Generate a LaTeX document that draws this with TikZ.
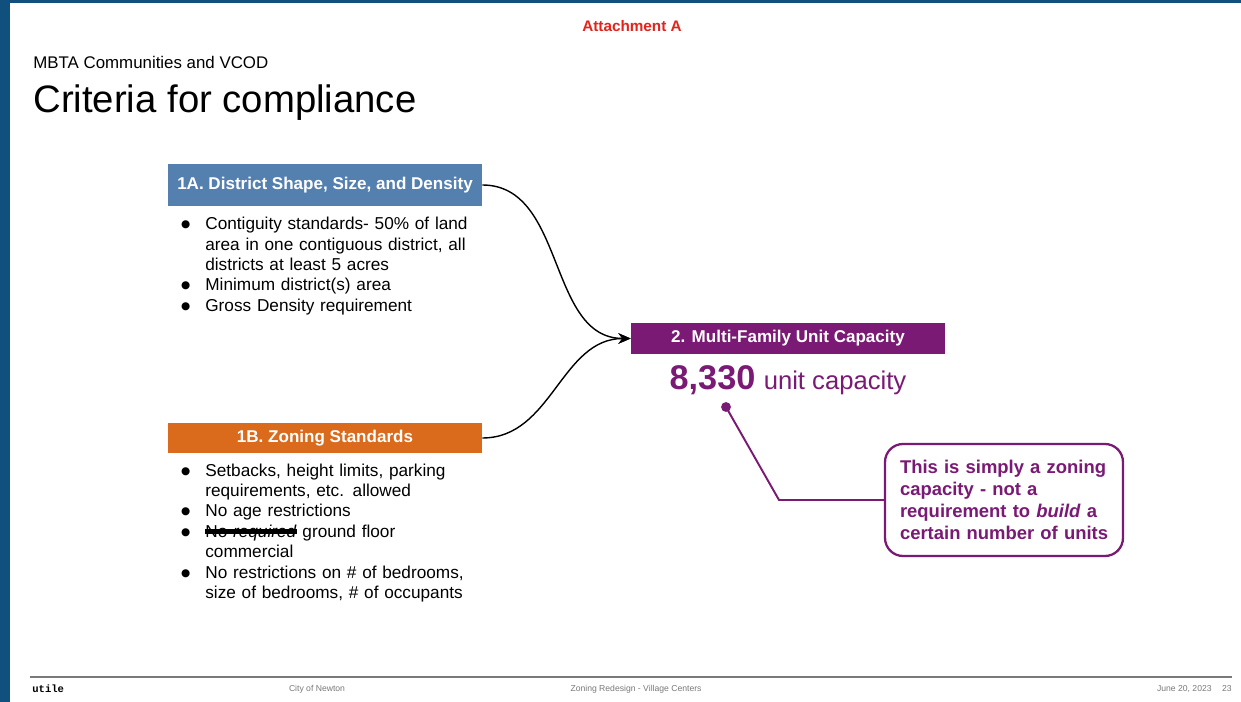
\documentclass[tikz,border=0pt]{standalone}
\usepackage{fontspec}
\setmainfont{Liberation Sans}
\newfontfamily\utilefont{Liberation Mono}
\newfontfamily\dotfont{DejaVu Sans}
\usepackage{enumitem}
\usetikzlibrary{arrows.meta}
\definecolor{pageblue}{HTML}{10507E}
\definecolor{boxblue}{HTML}{5480B0}
\definecolor{boxorange}{HTML}{DA6A1C}
\definecolor{boxpurple}{HTML}{7A1A75}
\definecolor{attred}{HTML}{E3231C}
\definecolor{footgray}{HTML}{7A7A7A}
\setlist[itemize]{leftmargin=0.48cm,labelsep=0.3cm,label={\raisebox{1.2pt}{\dotfont\fontsize{6}{6}\selectfont ●}},itemsep=0pt,topsep=0pt,parsep=0pt,partopsep=0pt}
\newsavebox\scribbox
\newcommand\scrib[1]{\leavevmode\sbox\scribbox{#1}\rlap{\usebox\scribbox}\rule[0.2em]{\wd\scribbox}{3pt}}
\tikzset{
	head/.style={font=\fontsize{9.7}{11}\selectfont\bfseries,text=white,minimum width=6.28cm,inner sep=0pt},
	bullets/.style={anchor=north west,inner sep=0pt,text width=6.4cm,align=left,font=\fontsize{9.8}{11.6}\selectfont},
	foot/.style={font=\fontsize{4.9}{6}\selectfont,text=footgray,inner sep=0pt},
	link/.style={line width=0.8pt,-{Stealth[length=7pt,width=6pt]}}
}
\begin{document}
\begin{tikzpicture}[x=0.02cm,y=-0.02cm]
	\useasboundingbox (0,0) rectangle (1241,702);
	\fill[white] (0,0) rectangle (1241,702);
	\fill[pageblue] (0,0) rectangle (10,702);
	\fill[pageblue] (0,0) rectangle (1241,3);
	\node[font=\fontsize{8.7}{10}\selectfont\bfseries,text=attred] (att) at (632,26) {Attachment A};
	\node[anchor=base west,inner sep=0pt,font=\fontsize{9.6}{11}\selectfont] (sub) at (33,69) {MBTA Communities and VCOD};
	\node[anchor=base west,inner sep=0pt,font=\fontsize{21.8}{26}\selectfont] (title) at (33,113) {Criteria for compliance};
	\node[head,fill=boxblue,minimum height=0.86cm] (dist) at (325,185) {1A. District Shape, Size, and Density};
	\node[bullets] (distlist) at (181,209) {\begin{itemize}
		\item Contiguity standards- 50\% of land\newline area in one contiguous district, all\newline districts at least 5 acres
		\item Minimum district(s) area
		\item Gross Density requirement
	\end{itemize}};
	\node[head,fill=boxorange,minimum height=0.62cm] (zon) at (325,438) {1B. Zoning Standards};
	\node[bullets] (zonlist) at (181,455.5) {\begin{itemize}
		\item Setbacks, height limits, parking\newline requirements, etc. allowed
		\item No age restrictions
		\item \scrib{No \textit{required}} ground floor\newline commercial
		\item No restrictions on \# of bedrooms,\newline size of bedrooms, \# of occupants
	\end{itemize}};
	\node[head,fill=boxpurple,minimum height=0.62cm] (multi) at (788,338.5) {2. Multi-Family Unit Capacity};
	\node[anchor=base,inner sep=0pt,text=boxpurple] (cap) at (788,390) {{\fontsize{19.5}{22}\selectfont\bfseries 8,330}\hspace{2pt} {\fontsize{14.6}{17}\selectfont unit capacity}};
	\node[draw=boxpurple,line width=1.3pt,rounded corners=0.36cm,text=boxpurple,inner xsep=0.3cm,text width=4.16cm,minimum height=2.24cm,align=left,font=\fontsize{10.5}{12.6}\selectfont\bfseries] (note) at (1004,500) {\mbox{This is simply a zoning}\\capacity - not a\\\mbox{requirement to \textit{build} a}\\\mbox{certain number of units}};
	\draw[link] (dist.east) to[out=0,in=180] (multi.west);
	\draw[link] (zon.east) to[out=0,in=180] (multi.west);
	\coordinate (dot) at (726,407);
	\coordinate (bend) at (779,500);
	\fill[boxpurple] (dot) circle (2.8pt);
	\draw[boxpurple,line width=1.1pt] (dot) -- (bend) -- (note.west);
	\draw[footgray,line width=0.6pt] (30,677) -- (1232,677);
	\node[anchor=west,inner sep=0pt,font=\utilefont\bfseries\fontsize{6}{7}\selectfont] (utile) at (32,689) {utile};
	\node[foot] (city) at (317,689) {City of Newton};
	\node[foot] (proj) at (636,689) {Zoning Redesign - Village Centers};
	\node[foot,anchor=east] (date) at (1212,689) {June 20, 2023};
	\node[foot,anchor=east] (page) at (1232,689) {23};
\end{tikzpicture}
\end{document}
